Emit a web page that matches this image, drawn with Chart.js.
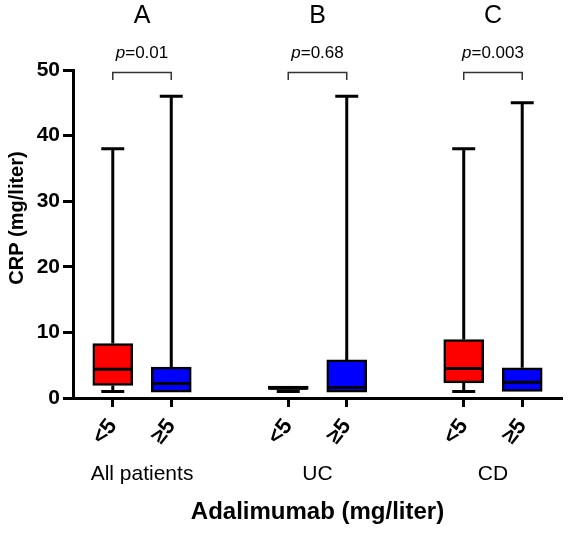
<!DOCTYPE html>
<html>
<head>
<meta charset="utf-8">
<script src="https://cdn.jsdelivr.net/npm/chart.js@4/dist/chart.umd.min.js"></script>
<style>
  html, body { margin: 0; padding: 0; background: #fff; }
  #wrap { width: 568px; height: 533px; }
</style>
</head>
<body>
<div id="wrap"><canvas id="c" width="568" height="533"></canvas></div>
<script>
// ---- data ----
const groups = ['All patients', 'UC', 'CD'];
const panelLetters = ['A', 'B', 'C'];
const pValues = ['0.01', '0.68', '0.003'];
const levels = ['<5', '≥5'];
// box statistics, order: A<5, A≥5, B<5, B≥5, C<5, C≥5
const maxVals = [38, 46, 1.8, 46, 38, 45];
const q3Vals  = [8.3, 4.7, 1.8, 5.8, 8.9, 4.6];
const medVals = [4.4, 2.2, 1.5, 1.6, 4.5, 2.4];
const q1Vals  = [1.9, 0.9, 1.3, 0.9, 2.3, 1.0];
const minVals = [1.0, 0.9, 1.0, 0.9, 1.0, 1.0];
const yTicks = [0, 10, 20, 30, 40, 50];
const yTitle = 'CRP (mg/liter)';
const xTitle = 'Adalimumab (mg/liter)';

const FONT = "'Liberation Sans', Arial, Helvetica, sans-serif";
const boxColors = ['#ff0000', '#0000ff'];

// x position of each box (group g, level k)
const boxPos = [];
groups.forEach((g, gi) => levels.forEach((l, k) => boxPos.push(gi * 3 + k)));

const boxData = boxPos.map((x, i) => ({ x: x, y: [q1Vals[i], q3Vals[i]] }));

const whiskerPlugin = {
  id: 'whiskers',
  afterDatasetsDraw(chart) {
    const ctx = chart.ctx, xs = chart.scales.x, ys = chart.scales.y;
    ctx.save();
    ctx.strokeStyle = '#000';
    ctx.lineCap = 'butt';
    boxPos.forEach((p, i) => {
      const x = xs.getPixelForValue(p);
      const yMax = ys.getPixelForValue(maxVals[i]);
      const yQ3 = ys.getPixelForValue(q3Vals[i]);
      const yQ1 = ys.getPixelForValue(q1Vals[i]);
      const yMin = ys.getPixelForValue(minVals[i]);
      const yMed = ys.getPixelForValue(medVals[i]);
      const capW = 11.5;
      ctx.lineWidth = 3;
      ctx.beginPath();
      if (yQ3 - yMax > 0.5) {
        ctx.moveTo(x, yMax); ctx.lineTo(x, yQ3);
        ctx.moveTo(x - capW, yMax); ctx.lineTo(x + capW, yMax);
      }
      if (yMin - yQ1 > 0.5) {
        ctx.moveTo(x, yQ1); ctx.lineTo(x, yMin);
        ctx.moveTo(x - capW, yMin); ctx.lineTo(x + capW, yMin);
      }
      ctx.stroke();
      ctx.beginPath();
      ctx.moveTo(x - 19, yMed); ctx.lineTo(x + 19, yMed);
      ctx.stroke();
    });
    ctx.restore();
  }
};

const annotPlugin = {
  id: 'annot',
  afterDraw(chart) {
    const ctx = chart.ctx, xs = chart.scales.x, ys = chart.scales.y;
    ctx.save();
    ctx.fillStyle = '#000';
    ctx.textBaseline = 'middle';
    ctx.textAlign = 'center';
    groups.forEach((g, gi) => {
      const x0 = xs.getPixelForValue(gi * 3);
      const x1 = xs.getPixelForValue(gi * 3 + 1);
      const cx = (x0 + x1) / 2;
      ctx.font = "25px " + FONT;
      ctx.fillText(panelLetters[gi], cx, 16);
      ctx.font = "italic 17px " + FONT;
      const pw = ctx.measureText('p').width;
      ctx.font = "17px " + FONT;
      const rest = '=' + pValues[gi];
      const rw = ctx.measureText(rest).width;
      const sx = cx - (pw + rw) / 2;
      ctx.textAlign = 'left';
      ctx.font = "italic 17px " + FONT;
      ctx.fillText('p', sx, 53);
      ctx.font = "17px " + FONT;
      ctx.fillText(rest, sx + pw, 53);
      ctx.textAlign = 'center';
      ctx.strokeStyle = '#333';
      ctx.lineWidth = 1.5;
      ctx.beginPath();
      ctx.moveTo(x0, 80); ctx.lineTo(x0, 72.5); ctx.lineTo(x1, 72.5); ctx.lineTo(x1, 80);
      ctx.stroke();
      ctx.font = "21px " + FONT;
      ctx.fillText(g, cx, 474);
    });
    // x axis title
    ctx.font = "bold 24px " + FONT;
    ctx.fillText(xTitle, (xs.left + xs.right) / 2, 512);
    // y axis title
    ctx.translate(17, 218);
    ctx.rotate(-Math.PI / 2);
    ctx.font = "bold 20px " + FONT;
    ctx.fillText(yTitle, 0, 0);
    ctx.restore();
  }
};

new Chart(document.getElementById('c'), {
  type: 'bar',
  data: {
    datasets: [{
      data: boxData,
      backgroundColor: boxPos.map((p, i) => boxColors[i % 2]),
      borderColor: '#000',
      borderWidth: 2.5,
      borderSkipped: false,
      barThickness: 40
    }]
  },
  options: {
    responsive: false,
    animation: false,
    devicePixelRatio: 1,
    layout: { padding: { top: 70, right: 6, left: 0, bottom: 0 } },
    plugins: { legend: { display: false }, tooltip: { enabled: false } },
    scales: {
      x: {
        type: 'linear',
        offset: false,
        min: -0.68,
        max: 7.68,
        afterBuildTicks(scale) { scale.ticks = boxPos.map(v => ({ value: v })); },
        afterFit(scale) { scale.height = 135; },
        ticks: {
          autoSkip: false,
          minRotation: 52,
          maxRotation: 52,
          padding: 7,
          color: '#000',
          font: { family: FONT, size: 22, weight: 'bold' },
          callback: (v) => levels[Math.round(v) % 3]
        },
        grid: { display: true, offset: false, drawOnChartArea: false, drawTicks: true, tickLength: 9, tickWidth: 3, tickColor: '#000' },
        border: { display: true, width: 3, color: '#000' }
      },
      y: {
        min: 0,
        max: 50,
        afterBuildTicks(scale) { scale.ticks = yTicks.map(v => ({ value: v })); },
        afterFit(scale) { scale.width = 73; },
        ticks: {
          color: '#000',
          padding: 3,
          font: { family: FONT, size: 21, weight: 'bold' }
        },
        grid: { display: true, drawOnChartArea: false, drawTicks: true, tickLength: 10, tickWidth: 3, tickColor: '#000' },
        border: { display: true, width: 3, color: '#000' }
      }
    }
  },
  plugins: [whiskerPlugin, annotPlugin]
});
</script>
</body>
</html>
